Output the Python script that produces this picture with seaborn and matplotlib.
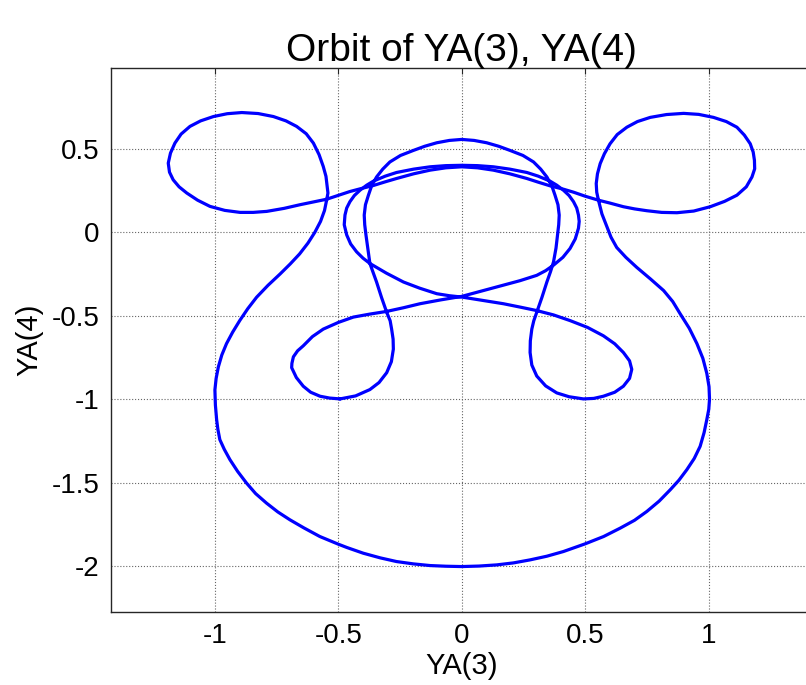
import matplotlib
matplotlib.use("Agg")
import matplotlib.pyplot as plt
import seaborn as sns
import pandas as pd

# Outer orbit: left lobe, over the top, right lobe, down and around the bottom
outer_x = [-0.547, -0.542, -0.545, -0.550, -0.561, -0.578, -0.601, -0.630, -0.669, -0.712,
           -0.763, -0.825, -0.891, -0.950, -1.006, -1.058, -1.101, -1.137, -1.162, -1.180,
           -1.189, -1.184, -1.169, -1.145, -1.114, -1.070, -1.020, -0.960, -0.898, -0.845,
           -0.790, -0.720, -0.655, -0.600, -0.547, -0.500, -0.453, -0.412, -0.358, -0.310,
           -0.264, -0.195, -0.128, -0.064, 0.000, 0.064, 0.128, 0.195, 0.264, 0.310,
           0.358, 0.412, 0.453, 0.500, 0.554, 0.600, 0.655, 0.700, 0.750, 0.810,
           0.872, 0.940, 1.007, 1.065, 1.115, 1.153, 1.176, 1.187, 1.186, 1.181,
           1.169, 1.145, 1.115, 1.072, 1.020, 0.960, 0.899, 0.830, 0.764, 0.712,
           0.669, 0.630, 0.601, 0.578, 0.561, 0.550, 0.545, 0.547, 0.554, 0.568,
           0.588, 0.605, 0.628, 0.665, 0.709, 0.765, 0.818, 0.855, 0.885, 0.922,
           0.953, 0.977, 0.993, 1.002, 1.004, 1.001, 0.993, 0.982, 0.966, 0.942,
           0.912, 0.880, 0.845, 0.800, 0.750, 0.700, 0.642, 0.575, 0.500, 0.412,
           0.345, 0.277, 0.210, 0.142, 0.070, 0.000, -0.064, -0.128, -0.196, -0.264,
           -0.330, -0.399, -0.465, -0.500, -0.575, -0.640, -0.696, -0.745, -0.791, -0.835,
           -0.872, -0.908, -0.939, -0.962, -0.980, -0.988, -0.993, -0.998, -1.000, -0.995,
           -0.986, -0.972, -0.953, -0.928, -0.899, -0.867, -0.831, -0.785, -0.736, -0.695,
           -0.657, -0.623, -0.595, -0.572, -0.556, -0.547]
outer_y = [0.195, 0.235, 0.274, 0.335, 0.394, 0.465, 0.534, 0.590, 0.634, 0.667,
           0.693, 0.711, 0.717, 0.710, 0.693, 0.667, 0.634, 0.588, 0.534, 0.474,
           0.414, 0.360, 0.314, 0.272, 0.235, 0.192, 0.155, 0.131, 0.119, 0.119,
           0.125, 0.143, 0.165, 0.182, 0.198, 0.221, 0.244, 0.260, 0.280, 0.302,
           0.322, 0.350, 0.372, 0.386, 0.392, 0.386, 0.372, 0.350, 0.322, 0.300,
           0.278, 0.258, 0.240, 0.216, 0.192, 0.175, 0.153, 0.140, 0.129, 0.119,
           0.117, 0.127, 0.153, 0.185, 0.222, 0.272, 0.331, 0.380, 0.431, 0.480,
           0.530, 0.582, 0.629, 0.663, 0.688, 0.706, 0.712, 0.705, 0.688, 0.663,
           0.629, 0.585, 0.530, 0.470, 0.411, 0.350, 0.292, 0.240, 0.192, 0.110,
           0.034, -0.030, -0.091, -0.150, -0.210, -0.280, -0.349, -0.415, -0.488, -0.575,
           -0.667, -0.755, -0.845, -0.925, -1.000, -1.060, -1.122, -1.200, -1.282, -1.355,
           -1.422, -1.485, -1.542, -1.610, -1.672, -1.725, -1.772, -1.822, -1.866, -1.912,
           -1.940, -1.962, -1.980, -1.992, -1.999, -2.002, -2.000, -1.996, -1.986, -1.972,
           -1.950, -1.922, -1.888, -1.868, -1.822, -1.770, -1.722, -1.675, -1.622, -1.565,
           -1.502, -1.432, -1.362, -1.300, -1.242, -1.180, -1.122, -1.035, -0.944, -0.875,
           -0.806, -0.735, -0.667, -0.598, -0.528, -0.458, -0.389, -0.318, -0.250, -0.190,
           -0.130, -0.065, 0.000, 0.065, 0.130, 0.195]

# Inner orbit: lower lobes, central crossing, inner ellipse and top arc
inner_x = [-0.493, -0.535, -0.574, -0.612, -0.642, -0.670, -0.689, -0.688, -0.682, -0.665,
           -0.642, -0.605, -0.561, -0.500, -0.439, -0.372, -0.304, -0.236, -0.169, -0.085,
           0.000, 0.085, 0.169, 0.236, 0.304, 0.340, 0.372, 0.410, 0.439, 0.460,
           0.473, 0.476, 0.473, 0.466, 0.453, 0.435, 0.412, 0.385, 0.358, 0.310,
           0.264, 0.195, 0.128, 0.064, 0.000, -0.064, -0.128, -0.195, -0.264, -0.310,
           -0.358, -0.385, -0.412, -0.435, -0.453, -0.466, -0.473, -0.476, -0.466, -0.450,
           -0.426, -0.400, -0.372, -0.305, -0.236, -0.170, -0.101, -0.050, 0.000, 0.085,
           0.169, 0.236, 0.304, 0.372, 0.439, 0.510, 0.574, 0.620, 0.655, 0.680,
           0.689, 0.680, 0.655, 0.620, 0.574, 0.535, 0.493, 0.435, 0.385, 0.340,
           0.304, 0.284, 0.277, 0.278, 0.284, 0.292, 0.304, 0.325, 0.345, 0.360,
           0.372, 0.382, 0.388, 0.393, 0.395, 0.390, 0.378, 0.365, 0.345, 0.320,
           0.291, 0.248, 0.196, 0.150, 0.101, 0.050, 0.000, -0.050, -0.101, -0.150,
           -0.196, -0.248, -0.291, -0.320, -0.345, -0.365, -0.378, -0.390, -0.395, -0.393,
           -0.388, -0.380, -0.372, -0.358, -0.345, -0.325, -0.304, -0.290, -0.284, -0.278,
           -0.277, -0.285, -0.304, -0.335, -0.372, -0.430, -0.493]
inner_y = [-0.998, -0.993, -0.982, -0.958, -0.922, -0.870, -0.811, -0.785, -0.746, -0.710,
           -0.680, -0.625, -0.580, -0.540, -0.508, -0.490, -0.474, -0.452, -0.428, -0.405,
           -0.384, -0.350, -0.317, -0.290, -0.258, -0.230, -0.197, -0.150, -0.097, -0.040,
           0.024, 0.065, 0.103, 0.145, 0.183, 0.220, 0.252, 0.282, 0.306, 0.336,
           0.358, 0.378, 0.392, 0.399, 0.401, 0.399, 0.392, 0.378, 0.358, 0.336,
           0.306, 0.282, 0.252, 0.220, 0.183, 0.145, 0.103, 0.045, -0.016, -0.070,
           -0.117, -0.155, -0.187, -0.245, -0.298, -0.335, -0.368, -0.380, -0.388, -0.408,
           -0.428, -0.448, -0.469, -0.495, -0.529, -0.570, -0.620, -0.668, -0.720, -0.770,
           -0.821, -0.875, -0.922, -0.958, -0.982, -0.995, -0.998, -0.985, -0.962, -0.920,
           -0.861, -0.795, -0.720, -0.650, -0.580, -0.530, -0.479, -0.390, -0.298, -0.235,
           -0.177, -0.095, -0.016, 0.045, 0.103, 0.165, 0.222, 0.278, 0.331, 0.378,
           0.421, 0.460, 0.490, 0.515, 0.536, 0.550, 0.556, 0.550, 0.536, 0.515,
           0.490, 0.460, 0.421, 0.378, 0.331, 0.278, 0.222, 0.165, 0.103, 0.045,
           -0.016, -0.100, -0.187, -0.245, -0.298, -0.390, -0.479, -0.530, -0.580, -0.640,
           -0.700, -0.775, -0.841, -0.900, -0.942, -0.980, -0.998]

x_ticks = [-1, -0.5, 0, 0.5, 1]
x_tick_labels = ["-1", "-0.5", "0", "0.5", "1"]
y_ticks = [-2, -1.5, -1, -0.5, 0, 0.5]
y_tick_labels = ["-2", "-1.5", "-1", "-0.5", "0", "0.5"]

sns.set_style("white")
plt.rcParams["font.family"] = ["Liberation Sans", "DejaVu Sans"]
plt.rcParams["axes.unicode_minus"] = False

fig = plt.figure(figsize=(8.06, 6.85), dpi=100)
ax = fig.add_axes([0.1371, 0.1066, 0.8715, 0.7942])

outer = pd.DataFrame({"x": outer_x, "y": outer_y})
inner = pd.DataFrame({"x": inner_x, "y": inner_y})
for df in (outer, inner):
    sns.lineplot(data=df, x="x", y="y", sort=False, estimator=None,
                 color="#0000ff", linewidth=2.3, ax=ax)
for ln in ax.lines:
    ln.set_solid_joinstyle("round")
    ln.set_solid_capstyle("round")

ax.set_xlim(-1.423, 1.423)
ax.set_ylim(-2.274, 0.984)
ax.set_xticks(x_ticks)
ax.set_xticklabels(x_tick_labels)
ax.set_yticks(y_ticks)
ax.set_yticklabels(y_tick_labels)
ax.grid(True, linestyle=":", color="#666666", linewidth=0.8)
ax.set_axisbelow(True)

for s in ax.spines.values():
    s.set_color("#262626")
    s.set_linewidth(1.0)

ax.tick_params(direction="in", length=4, width=0.8, top=True, right=True,
               labelsize=20, pad=8, colors="#262626", labelcolor="black")
ax.set_xlabel("YA(3)", fontsize=21, labelpad=2, color="black")
ax.set_ylabel("YA(4)", fontsize=21, labelpad=6, color="black")
ax.set_title("Orbit of YA(3), YA(4)", fontsize=28, pad=5, color="black")

fig.savefig("out.png", dpi=100)
